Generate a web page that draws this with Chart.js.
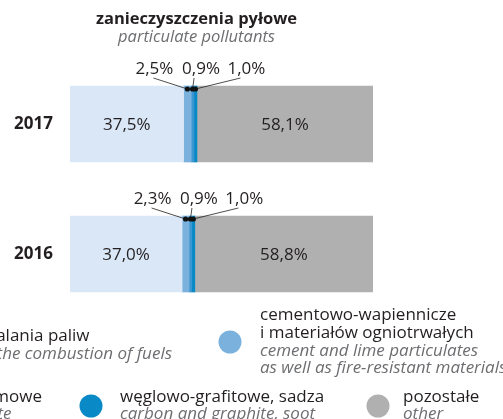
<!DOCTYPE html>
<html>
<head>
<meta charset="utf-8">
<script src="https://cdn.jsdelivr.net/npm/chart.js@4.4.0/dist/chart.umd.min.js"></script>
<style>
    html, body { margin: 0; padding: 0; background: #fff; overflow: hidden; }
    #wrap { width: 503px; height: 419px; }
</style>
</head>
<body>
<div id="wrap"><canvas id="particulates" width="503" height="419"></canvas></div>
<script>
const years = ['2017', '2016'];
const fuelCombustion = [37.5, 37.0];
const cementLime = [2.5, 2.3];
const silicate = [0.9, 0.9];
const carbonGraphite = [1.0, 1.0];
const other = [58.1, 58.8];

const seriesNamesPl = [
    ['ze spalania paliw'],
    ['cementowo-wapiennicze', 'i materiałów ogniotrwałych'],
    ['krzemowe'],
    ['węglowo-grafitowe, sadza'],
    ['pozostałe']
];
const seriesNamesEn = [
    ['from the combustion of fuels'],
    ['cement and lime particulates', 'as well as fire-resistant materials'],
    ['silicate'],
    ['carbon and graphite, soot'],
    ['other']
];
const seriesColors = ['#d9e7f7', '#7bb1dd', '#3a97d2', '#0a89c7', '#b0b0b0'];

const FONT = '"Open Sans", "Noto Sans", sans-serif';
const DARK = '#231f20';
const GREY = '#6d6e71';

function pct(v) {
    return v.toFixed(1).replace('.', ',') + '%';
}

// small slices get a callout above the bar
const calloutDx = [-33, 8.5, 51];
const leaderDx = [-1, -7, -6];

const titlePlugin = {
    id: 'titlePlugin',
    afterDraw(chart) {
        const ctx = chart.ctx;
        ctx.save();
        ctx.textAlign = 'center';
        ctx.textBaseline = 'alphabetic';
        ctx.fillStyle = DARK;
        ctx.font = 'bold 16.5px ' + FONT;
        ctx.fillText('zanieczyszczenia pyłowe', 196.5, 24);
        ctx.fillStyle = GREY;
        ctx.font = 'italic 16.5px ' + FONT;
        ctx.fillText('particulate pollutants', 196.5, 41.5);
        ctx.restore();
    }
};

const valueLabels = {
    id: 'valueLabels',
    afterDatasetsDraw(chart) {
        const ctx = chart.ctx;
        ctx.save();
        ctx.font = '17px ' + FONT;
        ctx.fillStyle = DARK;
        ctx.textAlign = 'center';
        chart.data.labels.forEach((year, i) => {
            chart.data.datasets.forEach((ds, d) => {
                const bar = chart.getDatasetMeta(d).data[i];
                if (ds.data[i] > 10) {
                    ctx.textBaseline = 'middle';
                    ctx.fillText(pct(ds.data[i]), (bar.base + bar.x) / 2, bar.y + 1);
                }
            });
            [1, 2, 3].forEach((d, k) => {
                const bar = chart.getDatasetMeta(d).data[i];
                const cx = (bar.base + bar.x) / 2;
                const top = bar.y - bar.height / 2;
                const lx = cx + calloutDx[k];
                const ly = top - 12;
                ctx.strokeStyle = DARK;
                ctx.lineWidth = 0.8;
                ctx.beginPath();
                ctx.moveTo(lx + leaderDx[k], ly + 4);
                ctx.lineTo(cx, top + 3);
                ctx.stroke();
                ctx.beginPath();
                ctx.fillStyle = '#111';
                ctx.arc(cx, top + 3, 2.6, 0, Math.PI * 2);
                ctx.fill();
                ctx.fillStyle = DARK;
                ctx.textBaseline = 'alphabetic';
                ctx.fillText(pct(chart.data.datasets[d].data[i]), lx, ly);
            });
        });
        ctx.restore();
    }
};

// legend is cropped on the left in the source picture
const legendSpots = [
    {cx: -40, cy: 346, tx: null, endX: 172, y: 341},
    {cx: 230, cy: 342, tx: 260, y: 320},
    {cx: -60, cy: 406, tx: null, endX: 42, y: 401.5},
    {cx: 91, cy: 406, tx: 120, y: 401.5},
    {cx: 378, cy: 406, tx: 403, y: 401.5}
];

const legendPlugin = {
    id: 'legendPlugin',
    afterDraw(chart) {
        const ctx = chart.ctx;
        ctx.save();
        ctx.textAlign = 'left';
        ctx.textBaseline = 'alphabetic';
        legendSpots.forEach((s, d) => {
            ctx.beginPath();
            ctx.fillStyle = seriesColors[d];
            ctx.arc(s.cx, s.cy, 11.5, 0, Math.PI * 2);
            ctx.fill();
            let tx = s.tx;
            if (tx === null) {
                ctx.font = (d === 0 ? 'italic 17px ' : '17px ') + FONT;
                const ref = d === 0 ? seriesNamesEn[d][0] : seriesNamesPl[d][0];
                tx = s.endX - ctx.measureText(ref).width;
            }
            let y = s.y;
            ctx.font = '17px ' + FONT;
            ctx.fillStyle = DARK;
            seriesNamesPl[d].forEach(line => { ctx.fillText(line, tx, y); y += 17.8; });
            ctx.font = 'italic 17px ' + FONT;
            ctx.fillStyle = GREY;
            seriesNamesEn[d].forEach(line => { ctx.fillText(line, tx, y); y += 17.8; });
        });
        ctx.restore();
    }
};

const seriesData = [fuelCombustion, cementLime, silicate, carbonGraphite, other];

new Chart(document.getElementById('particulates'), {
    type: 'bar',
    data: {
        labels: years,
        datasets: seriesData.map((values, d) => ({
            label: seriesNamesPl[d].join(' '),
            data: values,
            backgroundColor: seriesColors[d],
            borderWidth: 0,
            barThickness: 76
        }))
    },
    options: {
        indexAxis: 'y',
        responsive: false,
        devicePixelRatio: 1,
        animation: false,
        layout: {padding: {left: 0, right: 130, top: 59, bottom: 100}},
        plugins: {
            legend: {display: false},
            tooltip: {enabled: false},
            title: {display: false}
        },
        scales: {
            x: {stacked: true, min: 0, max: 100, display: false},
            y: {
                stacked: true,
                grid: {display: false, drawTicks: false},
                border: {display: false},
                ticks: {
                    padding: 17,
                    color: DARK,
                    font: {family: FONT, size: 17, weight: 'bold'}
                },
                afterFit(scale) {
                    scale.width = 70;
                }
            }
        }
    },
    plugins: [titlePlugin, valueLabels, legendPlugin]
});
</script>
</body>
</html>
